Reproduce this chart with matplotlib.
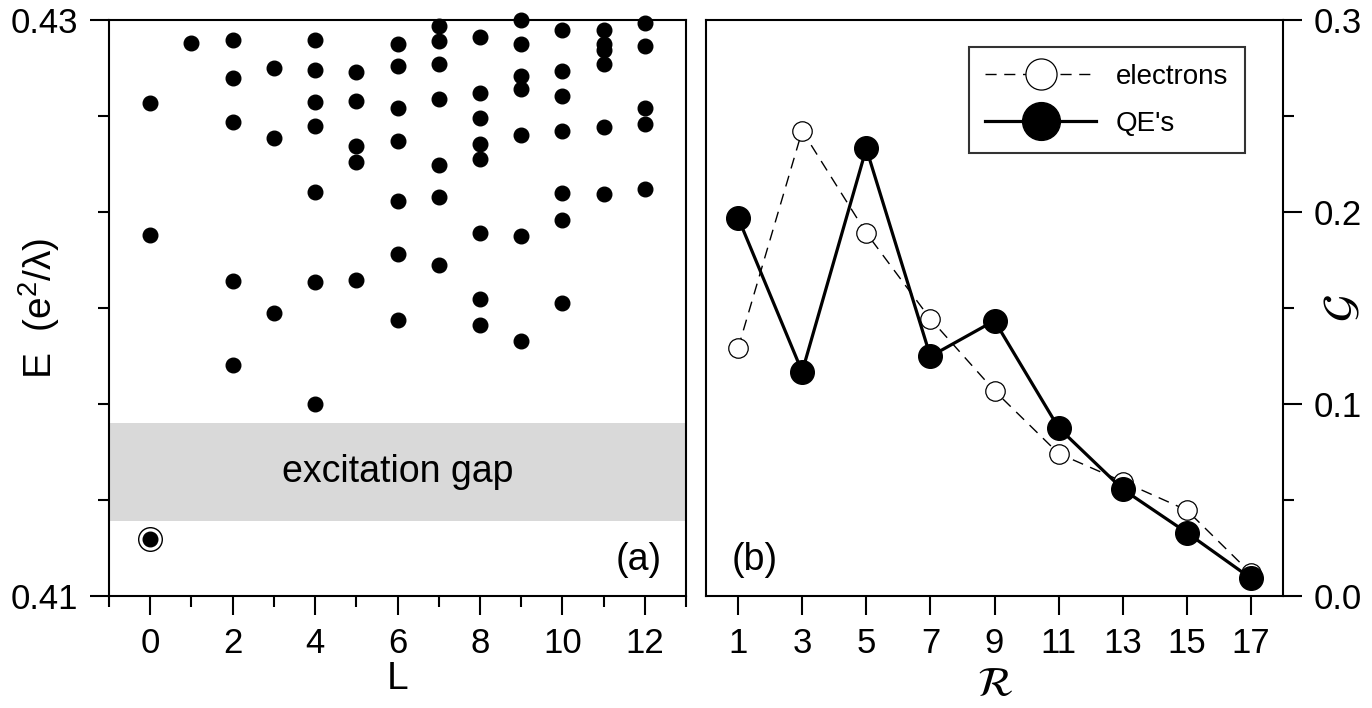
import matplotlib
matplotlib.use("Agg")
import matplotlib.pyplot as plt
from matplotlib.ticker import MultipleLocator, FixedLocator, FormatStrFormatter

plt.rcParams['font.family'] = ['Liberation Sans', 'DejaVu Sans']
plt.rcParams['mathtext.fontset'] = 'custom'
plt.rcParams['mathtext.rm'] = 'Liberation Sans'
plt.rcParams['mathtext.it'] = 'Liberation Sans:italic'

# ---- panel (a): spectrum E(L) ----
spec_L = [0, 0,
          1,
          2, 2, 2, 2, 2,
          3, 3, 3,
          4, 4, 4, 4, 4, 4, 4,
          5, 5, 5, 5, 5,
          6, 6, 6, 6, 6, 6, 6,
          7, 7, 7, 7, 7, 7, 7,
          8, 8, 8, 8, 8, 8, 8, 8,
          9, 9, 9, 9, 9, 9, 9,
          10, 10, 10, 10, 10, 10, 10,
          11, 11, 11, 11, 11, 11,
          12, 12, 12, 12, 12]
spec_E = [0.42712, 0.42254,
          0.42921,
          0.42930, 0.42799, 0.42646, 0.42095, 0.41802,
          0.42834, 0.42590, 0.41983,
          0.42930, 0.42828, 0.42715, 0.42633, 0.42402, 0.42090, 0.41665,
          0.42820, 0.42719, 0.42564, 0.42508, 0.42098,
          0.42918, 0.42840, 0.42696, 0.42580, 0.42373, 0.42186, 0.41957,
          0.42978, 0.42928, 0.42846, 0.42727, 0.42498, 0.42384, 0.42151,
          0.42940, 0.42747, 0.42661, 0.42569, 0.42517, 0.42260, 0.42030, 0.41942,
          0.43000, 0.42918, 0.42807, 0.42761, 0.42599, 0.42251, 0.41887,
          0.42964, 0.42823, 0.42735, 0.42614, 0.42401, 0.42307, 0.42016,
          0.42964, 0.42915, 0.42895, 0.42847, 0.42627, 0.42395,
          0.42988, 0.42911, 0.42695, 0.42640, 0.42412]
ground_L = 0
ground_E = 0.41197
gap_low = 0.41262
gap_high = 0.41599

# ---- panel (b): G vs R ----
R_vals = [1, 3, 5, 7, 9, 11, 13, 15, 17]
G_electrons = [0.1290, 0.2423, 0.1891, 0.1443, 0.1069, 0.0742, 0.0596, 0.0447, 0.0118]
G_qes = [0.1971, 0.1168, 0.2331, 0.1248, 0.1434, 0.0876, 0.0556, 0.0330, 0.0092]

tick_fs = 25
lab_fs = 28

fig = plt.figure(figsize=(13.72, 7.08), dpi=100)
ax1 = fig.add_axes([109 / 1372, 112 / 708, 577 / 1372, 576 / 708])
ax2 = fig.add_axes([706 / 1372, 112 / 708, 577 / 1372, 576 / 708])

# panel (a)
ax1.axhspan(gap_low, gap_high, color='#d9d9d9', lw=0, zorder=0)
ax1.plot(spec_L, spec_E, 'o', color='black', ms=10.5, clip_on=False, zorder=3)
ax1.plot([ground_L], [ground_E], 'o', color='black', ms=10.5, zorder=3)
ax1.plot([ground_L], [ground_E], 'o', mfc='none', mec='black', mew=1.0, ms=17, zorder=3)
ax1.text(0.5, 0.215, 'excitation gap', transform=ax1.transAxes,
         ha='center', va='center', fontsize=27)
ax1.text(0.958, 0.062, '(a)', transform=ax1.transAxes,
         ha='right', va='center', fontsize=27)

ax1.set_xlim(-1, 13)
ax1.set_ylim(0.41, 0.43)
ax1.xaxis.set_major_locator(MultipleLocator(2))
ax1.xaxis.set_minor_locator(MultipleLocator(1))
ax1.yaxis.set_major_locator(FixedLocator([0.41, 0.43]))
ax1.yaxis.set_minor_locator(FixedLocator([0.41 + k * 0.02 / 6 for k in range(1, 6)]))
ax1.yaxis.set_major_formatter(FormatStrFormatter('%.2f'))
ax1.set_xlabel('L', fontsize=lab_fs)
ax1.set_ylabel(r'E  (e$^2$/λ)', fontsize=lab_fs)
ax1.xaxis.set_label_coords(0.5, -0.113)
ax1.yaxis.set_label_coords(-0.082, 0.5)

# panel (b)
ax2.plot(R_vals, G_electrons, '--', color='black', lw=1.0, dashes=(8, 5.5),
         marker='o', mfc='white', mec='black', mew=0.9, ms=14, label='electrons')
ax2.plot(R_vals, G_qes, '-', color='black', lw=2.3,
         marker='o', mfc='black', mec='black', ms=17, label="QE's")
ax2.text(0.045, 0.062, '(b)', transform=ax2.transAxes,
         ha='left', va='center', fontsize=27)

ax2.set_xlim(0, 18)
ax2.set_ylim(0, 0.3)
ax2.set_xticks(R_vals)
ax2.yaxis.set_major_locator(MultipleLocator(0.1))
ax2.yaxis.set_minor_locator(MultipleLocator(0.05))
ax2.yaxis.set_major_formatter(FormatStrFormatter('%.1f'))
ax2.yaxis.tick_right()
ax2.yaxis.set_label_position('right')
ax2.set_xlabel(r'$\mathcal{R}$', fontsize=30, math_fontfamily='stix')
ax2.set_ylabel(r'$\mathcal{G}$', fontsize=32, math_fontfamily='stix', rotation=90)
ax2.xaxis.set_label_coords(0.5, -0.12)
ax2.yaxis.set_label_coords(1.069, 0.5)

leg = ax2.legend(loc='upper left', bbox_to_anchor=(0.455, 0.953), fontsize=20,
                 handlelength=4.0, markerscale=1.6, frameon=True, fancybox=False,
                 edgecolor='black', borderpad=0.6, labelspacing=0.75,
                 handletextpad=0.7, borderaxespad=0)
leg.get_frame().set_linewidth(1.5)

for ax in (ax1, ax2):
    for s in ax.spines.values():
        s.set_linewidth(1.5)
    ax.tick_params(which='major', direction='out', length=14, width=1.5,
                   labelsize=tick_fs, pad=8)
    ax.tick_params(which='minor', direction='out', length=8, width=1.5)
ax2.tick_params(axis='x', which='both', top=False)

fig.savefig('out.png', dpi=100)
